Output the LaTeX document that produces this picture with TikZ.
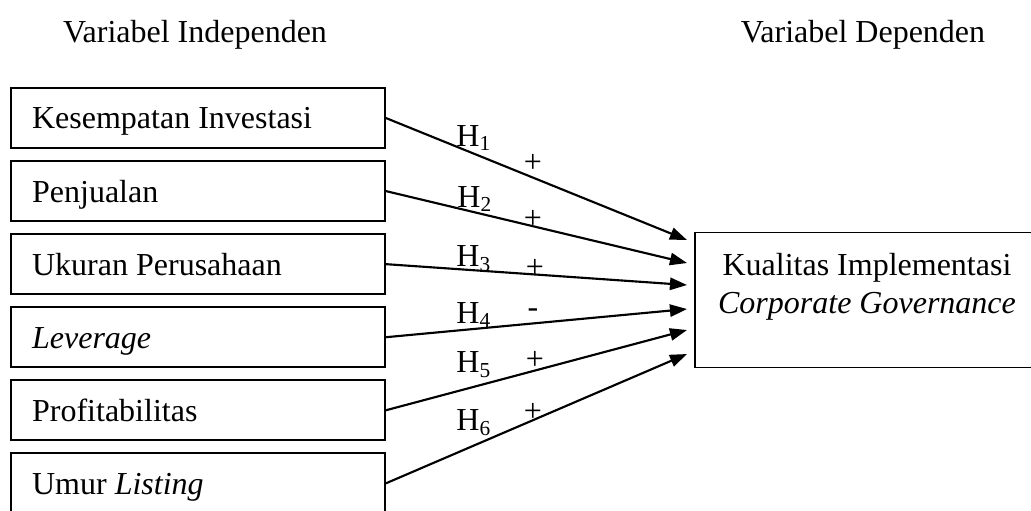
\documentclass[tikz,border=0pt]{standalone}
\usepackage{fontspec}
\setmainfont{Liberation Serif}
\usepackage{tikz}
\usetikzlibrary{positioning}
\usetikzlibrary{arrows.meta}

\tikzset{
    varbox/.style={draw, line width=0.7pt, minimum height=22.5pt, text width=124.4pt,
        text height=8.2pt, text depth=0pt,
        inner xsep=7.9pt, inner ysep=0pt, align=flush left, font=\fontsize{12}{14.25}\selectfont},
    depbox/.style={minimum width=150pt, minimum height=50.25pt},
    hyp/.style={line width=0.8pt, -{Triangle[length=6.4pt,width=4.6pt]}},
    lbl/.style={inner sep=0pt, font=\fontsize{12}{14.25}\selectfont}
}

\begin{document}
\begin{tikzpicture}[x=0.375pt, y=-0.375pt]
    \useasboundingbox (0,0) rectangle (1031,510);
    \clip (0,0) rectangle (1031,510);

    % headings
    \node[lbl] (indep) at (195,35) {Variabel Independen};
    \node[lbl] (dep) at (863,35) {Variabel Dependen};

    % independent variables
    \node[varbox] (kesempatan) at (198,118) {Kesempatan Investasi};
    \node[varbox, below=4.2pt of kesempatan] (penjualan) {Penjualan};
    \node[varbox, below=4.2pt of penjualan] (ukuran) {Ukuran Perusahaan};
    \node[varbox, below=4.2pt of ukuran] (leverage) {\textit{Leverage}};
    \node[varbox, below=4.2pt of leverage] (profit) {Profitabilitas};
    \node[varbox, below=4.2pt of profit] (umur) {Umur \textit{Listing}};

    % dependent variable (box runs off the right edge)
    \node[depbox, anchor=west] (kualitas) at (695,300) {};
    \draw[line width=0.7pt] (kualitas.north east) -- (kualitas.north west) -- (kualitas.south west) -- (kualitas.south east);
    \node[lbl, align=center] (kualitastext) at (867,287) {Kualitas Implementasi\\ \textit{Corporate Governance}};

    % arrow ends
    \coordinate (t1) at (687,240);
    \coordinate (t2) at (687,263);
    \coordinate (t3) at (687,285);
    \coordinate (t4) at (687,309);
    \coordinate (t5) at (687,330);
    \coordinate (t6) at (687,354);

    \draw[hyp] (kesempatan.east) -- (t1);
    \draw[hyp] (penjualan.east) -- (t2);
    \draw[hyp] (ukuran.east) -- (t3);
    \draw[hyp] (leverage.east) -- (t4);
    \draw[hyp] (profit.east) -- (t5);
    \draw[hyp] (umur.east) -- (t6);

    % hypotheses
    \node[lbl] (h1) at (474,138) {H\textsubscript{1}};
    \node[lbl] (h2) at (475,199) {H\textsubscript{2}};
    \node[lbl] (h3) at (474,259) {H\textsubscript{3}};
    \node[lbl] (h4) at (474,315) {H\textsubscript{4}};
    \node[lbl] (h5) at (474,365) {H\textsubscript{5}};
    \node[lbl] (h6) at (474,423) {H\textsubscript{6}};

    \node[lbl] (s1) at (533,163) {+};
    \node[lbl] (s2) at (533,219) {+};
    \node[lbl] (s3) at (535,268) {+};
    \node[lbl] (s4) at (533,313) {-};
    \node[lbl] (s5) at (535,360) {+};
    \node[lbl] (s6) at (533,412) {+};
\end{tikzpicture}
\end{document}
